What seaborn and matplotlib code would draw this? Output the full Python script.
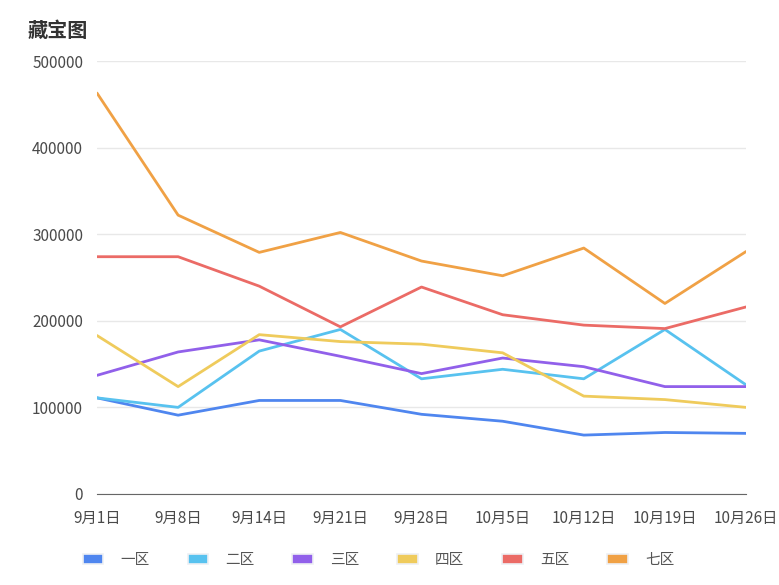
import pandas as pd
import seaborn as sns
import matplotlib.pyplot as plt
from matplotlib.patches import Patch

dates = ["9月1日", "9月8日", "9月14日", "9月21日", "9月28日",
         "10月5日", "10月12日", "10月19日", "10月26日"]
zones = ["一区", "二区", "三区", "四区", "五区", "七区"]

zone1 = [111000, 91000, 108000, 108000, 92000, 84000, 68000, 71000, 70000]
zone2 = [111000, 100000, 165000, 190000, 133000, 144000, 133000, 190000, 126000]
zone3 = [137000, 164000, 178000, 159000, 139000, 157000, 147000, 124000, 124000]
zone4 = [183000, 124000, 184000, 176000, 173000, 163000, 113000, 109000, 100000]
zone5 = [274000, 274000, 240000, 193000, 239000, 207000, 195000, 191000, 216000]
zone7 = [463000, 322000, 279000, 302000, 269000, 252000, 284000, 220000, 280000]

colors = ["#4f86ef", "#58c2ef", "#9160ea", "#efcb5c", "#eb6b66", "#f0a145"]

rows = []
for name, vals in zip(zones, [zone1, zone2, zone3, zone4, zone5, zone7]):
    for i, (d, v) in enumerate(zip(dates, vals)):
        rows.append({"idx": i, "date": d, "zone": name, "value": v})
df = pd.DataFrame(rows)

sns.set_style("white")
plt.rcParams["font.family"] = ["Noto Sans CJK SC", "DejaVu Sans"]

fig = plt.figure(figsize=(7.79, 5.85), dpi=100)
ax = fig.add_axes([0.1245, 0.1556, 0.8332, 0.7401])

sns.lineplot(data=df, x="idx", y="value", hue="zone", hue_order=zones,
             palette=colors, linewidth=2, ax=ax, legend=False, sort=False)

ax.set_xlim(0, 8)
ax.set_ylim(0, 500000)
ax.set_xticks(range(len(dates)))
ax.set_xticklabels(dates)
ax.set_yticks([0, 100000, 200000, 300000, 400000, 500000])
ax.set_yticklabels(["0", "100000", "200000", "300000", "400000", "500000"])
ax.tick_params(axis="both", labelsize=11, colors="#4a4a4a", length=0)
ax.tick_params(axis="y", pad=10)
ax.tick_params(axis="x", pad=11.5)
ax.grid(axis="y", color="#e8e8e8", linewidth=1)
ax.set_axisbelow(True)
for s in ["top", "right", "left"]:
    ax.spines[s].set_visible(False)
ax.spines["bottom"].set_color("#666666")
ax.set_xlabel("")
ax.set_ylabel("")

fig.text(0.035, 0.948, "藏宝图", fontsize=14.5, fontweight="bold",
         color="#333333", va="center", ha="left")

handles = [Patch(facecolor=c, edgecolor="#eef0f4", linewidth=1.2) for c in colors]
leg = fig.legend(handles, zones, loc="center left", bbox_to_anchor=(0.106, 0.042),
                 ncol=6, frameon=False, fontsize=10.5, handlelength=1.43,
                 handleheight=0.69, columnspacing=2.6, handletextpad=1.16,
                 borderpad=0, borderaxespad=0)
for t in leg.get_texts():
    t.set_color("#555555")

fig.savefig("out.png", dpi=100)
